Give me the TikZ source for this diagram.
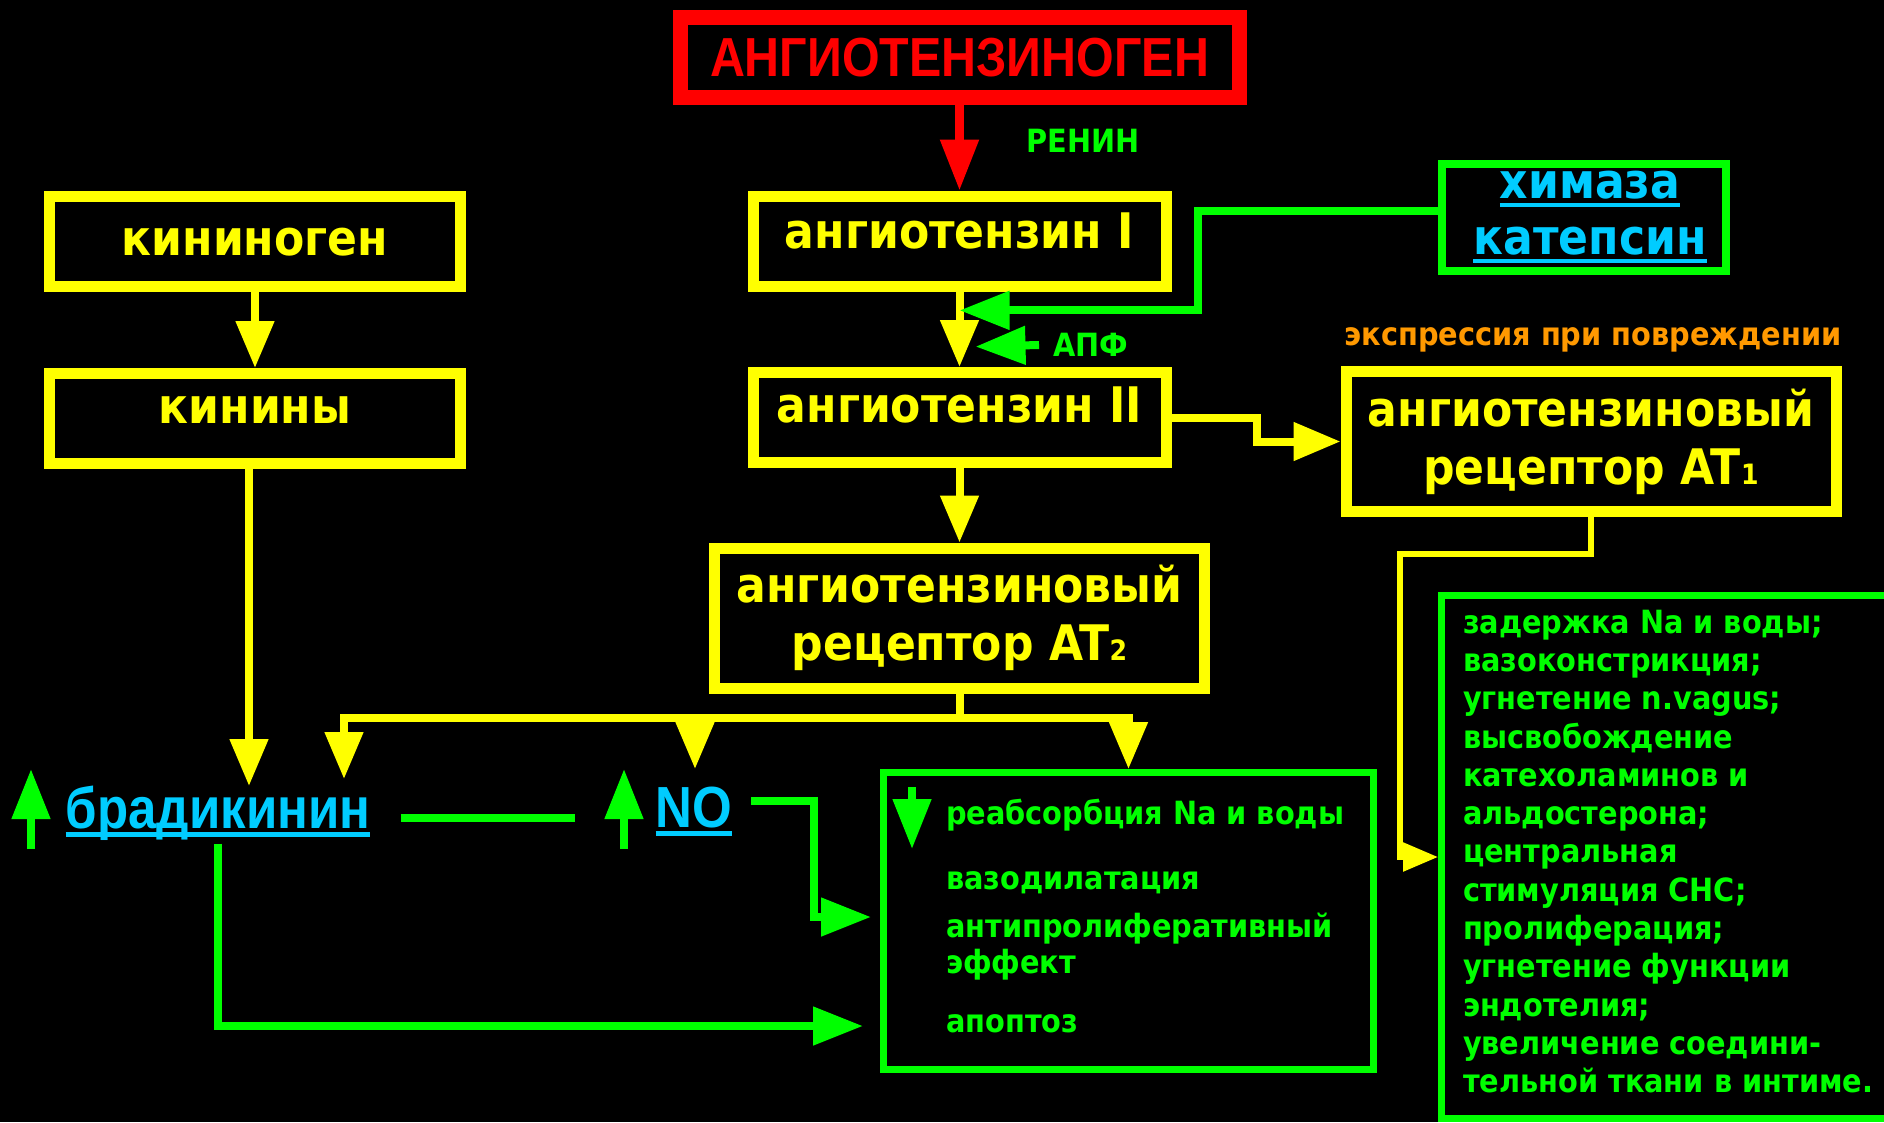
\documentclass[tikz,border=0pt]{standalone}
\usepackage{fontspec}
\setmainfont{DejaVu Sans}
\newfontfamily\cond{DejaVu Sans Condensed Bold}
\newfontfamily\narrowfont{Liberation Sans}[FakeStretch=0.88]
\usetikzlibrary{arrows.meta, positioning, calc}
\definecolor{alarm}{RGB}{255,0,0}
\definecolor{lemon}{RGB}{255,255,0}
\definecolor{leaf}{RGB}{0,255,0}
\definecolor{sky}{RGB}{0,204,255}
\definecolor{amber}{RGB}{255,153,0}
\newcommand{\bigtxt}{\cond\fontsize{49}{58}\selectfont}
\newcommand{\smalltxt}{\cond\fontsize{32}{36}\selectfont}
\newcommand{\idx}[1]{{\fontsize{28}{28}\selectfont #1}}
\newcommand{\lined}[1]{\leavevmode\setbox0\hbox{#1}\rlap{\rule[-8.5pt]{\wd0}{4.5pt}}\box0}

\begin{document}
\begin{tikzpicture}[x=1pt, y=-1pt,
  ybox/.style={draw=lemon, line width=11pt, fill=black, text=lemon, font=\bigtxt,
    minimum width=411pt, minimum height=90pt, inner sep=0pt, text height=24pt, text depth=14pt},
  ybox2/.style={draw=lemon, line width=11pt, fill=black, text=lemon, font=\bigtxt,
    minimum width=490pt, minimum height=140pt, inner sep=0pt, align=center},
  gbox/.style={draw=leaf, line width=7pt, fill=black, text=leaf, font=\smalltxt, inner sep=0pt},
  tag/.style={font=\smalltxt},
  link/.style={text=sky, font=\narrowfont\bfseries\fontsize{58}{60}\selectfont, inner sep=0pt},
  yarrow/.style={draw=lemon, line width=8pt, -{Triangle[length=47pt,width=37pt]}},
  garrow/.style={draw=leaf, line width=8pt, -{Triangle[length=50pt,width=37pt]}}]

  \fill[black] (0,0) rectangle (1884,1122);
  \useasboundingbox (0,0) rectangle (1884,1122);
  \clip (0,0) rectangle (1884,1122);

  % centre column
  \node[draw=alarm, line width=15pt, fill=black, text=alarm, minimum width=559pt, minimum height=80pt,
    inner sep=0pt, font=\narrowfont\bfseries\fontsize{55}{60}\selectfont] (gen) at (959.5,57.5) {АНГИОТЕНЗИНОГЕН};
  \node[ybox, minimum width=413pt, text depth=10pt] (ang1) at (959.5,241) {ангиотензин I};
  \node[ybox, minimum width=413pt] (ang2) at (959.5,417.5) {ангиотензин II};
  \node[ybox2] (at2) at (959.5,618) {ангиотензиновый\\рецептор AT\idx{2}};
  \node[tag, text=leaf] (renin) at (1083,141) {РЕНИН};
  \node[tag, text=leaf] (apf) at (1091,345) {АПФ};

  % kinins
  \node[ybox, text height=27pt, text depth=0pt] (kin1) at (255,241.5) {кининоген};
  \node[ybox] (kin2) at (255,418.5) {кинины};

  % right side
  \node[draw=leaf, line width=8pt, fill=black, text=sky, font=\cond\fontsize{49}{56}\selectfont,
    align=center, minimum width=284pt, minimum height=107pt, inner sep=0pt] (chy) at (1584,217.5)
    {\hspace*{12pt}\lined{химаза}\\\hspace*{12pt}\lined{катепсин}};
  \node[tag, text=amber] (dmg) at (1593,340) {экспрессия при повреждении};
  \node[ybox2] (at1) at (1591,441.5) {ангиотензиновый\\рецептор AT\idx{1}};

  % effects
  \node[link] (brady) at (218,813) {\lined{брадикинин}};
  \node[link] (no) at (694,811) {\lined{NO}};
  \node[gbox, minimum width=490pt, minimum height=297pt] (eff) at (1128.5,921)
    {\hspace*{62.5pt}\parbox{427.5pt}{\raggedright
      реабсорбция Na и воды\\[29pt]
      вазодилатация\\[12pt]
      антипролиферативный\\
      эффект\\[23pt]
      апоптоз\par\vspace*{10pt}}};
  \node[gbox, anchor=north west, minimum width=462pt, minimum height=523pt, font=\cond\fontsize{32}{38.3}\selectfont]
    (sns) at (1438,592)
    {\hspace*{21.5pt}\parbox{440.5pt}{\raggedright
      задержка Na и воды;\\
      вазоконстрикция;\\
      угнетение n.vagus;\\
      высвобождение\\
      катехоламинов и\\
      альдостерона;\\
      центральная\\
      стимуляция СНС;\\
      пролиферация;\\
      угнетение функции\\
      эндотелия;\\
      увеличение соедини-\\
      тельной ткани в интиме.\par\vspace*{11pt}}};

  % connectors
  \coordinate (cut) at ($(ang1.south)!.25!(ang2.north)$);
  \coordinate (ace) at ($(ang1.south)!.73!(ang2.north)+(16,0)$);
  \coordinate (split) at ($(at2.south)+(0,24)$);
  \coordinate (bk1) at (249,786);
  \coordinate (bk2) at (344,779);
  \coordinate (notip) at (695,769);

  \draw[draw=alarm, line width=8.5pt, -{Triangle[length=51pt,width=37pt]}] (gen.south) -- (ang1.north);
  \draw[yarrow] (ang1.south) -- (ang2.north);
  \draw[yarrow] (ang2.south) -- (at2.north);
  \draw[yarrow] (ang2.east) -- ++(85,0) |- (at1.west);
  \draw[yarrow] (kin1.south) -- (kin2.north);
  \draw[yarrow] (kin2.south -| bk1) -- (bk1);
  \draw[yarrow] (at2.south) -- (split) -| (bk2);
  \draw[yarrow] (split) -| (notip);
  \draw[yarrow] (split) -| (eff.north);
  \draw[draw=lemon, line width=5.5pt, -{Triangle[length=35pt,width=28pt]}]
    (at1.south) -- ++(0,37) -| ([xshift=-38pt]sns.west) -- (sns.west);

  \draw[garrow] ([yshift=7pt]chy.west) -| ($(cut)+(238,0)$) -- (cut);
  \draw[garrow] ([xshift=-11pt]apf.west) -- (ace);
  \draw[garrow] ([xshift=19pt,yshift=10pt]no.east) -- ++(63,0) |- ([xshift=-9pt,yshift=4pt]eff.west);
  \draw[garrow] ([yshift=-3pt]brady.south) |- ([xshift=-17pt,yshift=-105pt]eff.west);
  \draw[draw=leaf, line width=8pt] ([xshift=30pt,yshift=-5pt]brady.east) -- ++(174,0);

  % up and down marks
  \draw[garrow] (31,849) -- (31,769);
  \draw[garrow] (624,849) -- (624,769);
  \draw[garrow] (912,787) -- (912,849);
\end{tikzpicture}
\end{document}
